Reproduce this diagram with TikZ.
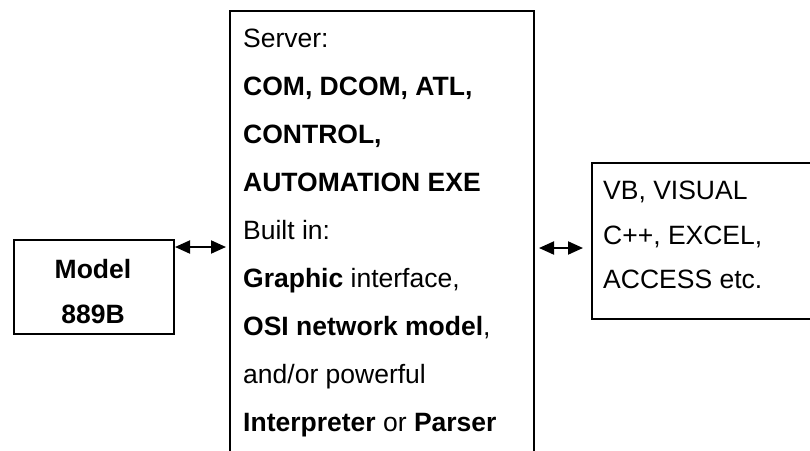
\documentclass[tikz,border=0pt]{standalone}
\usepackage{fontspec}
\setmainfont{Liberation Sans}
\usetikzlibrary{arrows.meta,calc}
\begin{document}
\begin{tikzpicture}[x=1pt,y=-1pt,
  box/.style={draw,line width=2pt,rectangle,inner sep=0pt,anchor=north west},
  txt/.style={anchor=base west,inner sep=0pt,font=\fontsize{26.5}{30}\selectfont},
  ctxt/.style={anchor=base,inner sep=0pt,font=\fontsize{26.5}{30}\selectfont\bfseries},
  arr/.style={line width=2pt,{Triangle[length=15pt,width=13pt]}-{Triangle[length=15pt,width=13pt]}}]
\useasboundingbox (0,0) rectangle (810,450);
\clip (0,0) rectangle (810,450);
\fill[white] (0,0) rectangle (810,450);
% boxes
\node[box,minimum width=160pt,minimum height=94pt] (model) at (13,239) {};
\node[box,minimum width=304pt,minimum height=480pt] (srv) at (229,10) {};
\node[box,minimum width=240pt,minimum height=156pt] (rbox) at (591,162) {};
% left box text
\node[ctxt] (m1) at (93,278) {Model};
\node[ctxt] (m2) at (93,323) {889B};
% server text
\node[txt] (s1) at (243,47) {Server:};
\node[txt] (s2) at (243,95) {\bfseries COM, DCOM, ATL,};
\node[txt] (s3) at (243,143) {\bfseries CONTROL,};
\node[txt] (s4) at (243,191) {\bfseries AUTOMATION EXE};
\node[txt] (s5) at (243,239) {Built in:};
\node[txt] (s6) at (243,287) {\textbf{Graphic} interface,};
\node[txt] (s7) at (243,335) {\textbf{OSI network model},};
\node[txt] (s8) at (243,383) {and/or powerful};
\node[txt] (s9) at (243,431) {\textbf{Interpreter} or \textbf{Parser}};
% right box text
\node[txt] (r1) at (603,199) {VB, VISUAL};
\node[txt] (r2) at (603,244) {C++, EXCEL,};
\node[txt] (r3) at (603,288) {ACCESS etc.};
% connectors
\draw[arr] ([yshift=-8pt]model.north east) -- ($(model.north east -| srv.west)+(-3,8)$);
\draw[arr] ($(srv.east |- rbox.north west)+(4,86)$) -- ($(rbox.north west)+(-8,86)$);
\end{tikzpicture}
\end{document}
